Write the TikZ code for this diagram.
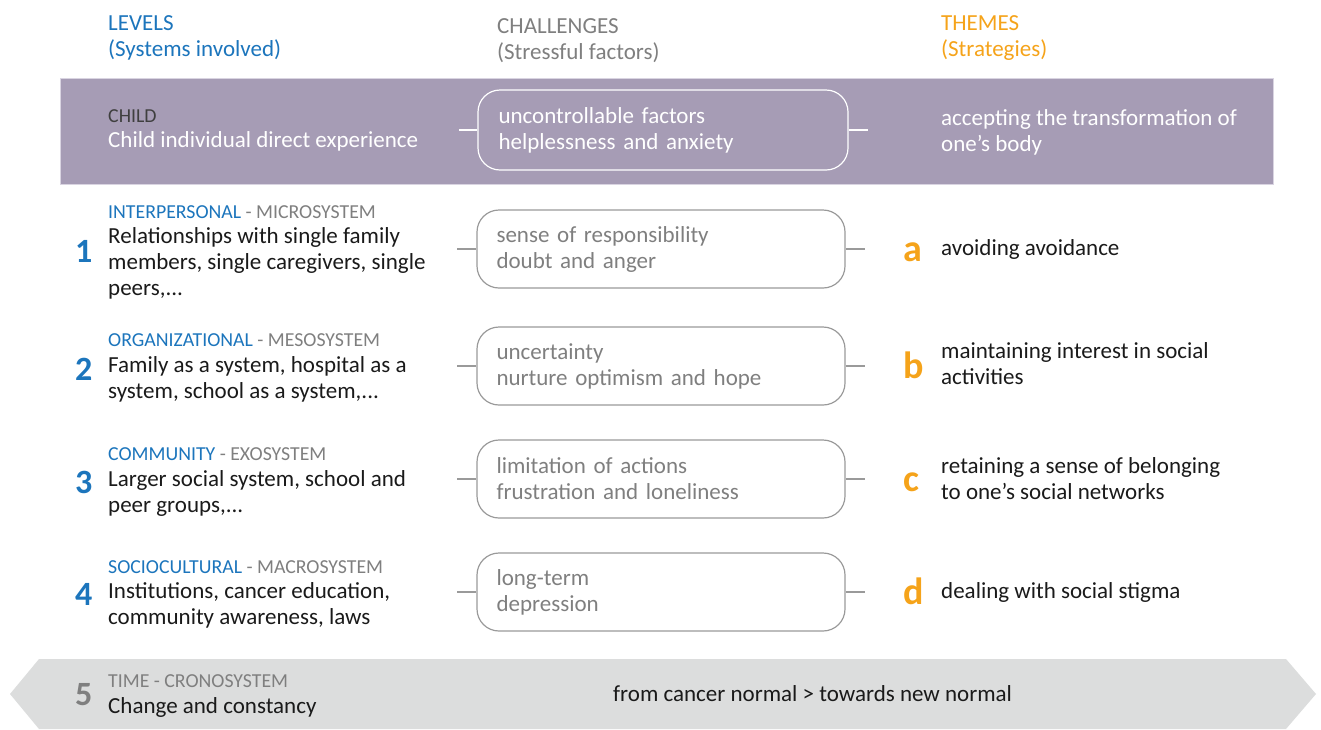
\documentclass[tikz,border=0pt]{standalone}
\usepackage{fontspec}
\setmainfont{Carlito}
\definecolor{lvblue}{HTML}{1C75BC}
\definecolor{thorange}{HTML}{F5A31A}
\definecolor{lblgray}{HTML}{7F7F7F}
\definecolor{dark}{HTML}{1A1A1A}
\definecolor{childpurple}{HTML}{A69CB5}
\definecolor{bandedge}{HTML}{D9D4E1}
\definecolor{boxgray}{HTML}{9A9A9A}
\definecolor{timegray}{HTML}{DCDDDD}
\definecolor{childlbl}{HTML}{3F3F3F}
\begin{document}
\begin{tikzpicture}[x=1pt,y={(0pt,-1pt)},
  txt/.style={anchor=west,inner sep=0pt,align=left,font=\fontsize{23}{26}\selectfont,text=dark},
  hdr/.style={txt},
  lbl/.style={anchor=west,inner sep=0pt,font=\fontsize{19.8}{22}\selectfont,text=lblgray},
  num/.style={anchor=base west,inner sep=0pt,font=\fontsize{34}{34}\selectfont\bfseries,text=lvblue},
  let/.style={anchor=base west,inner sep=0pt,font=\fontsize{38}{38}\selectfont\bfseries,text=thorange},
  chbox/.style={draw=boxgray,line width=1.2pt,rounded corners=22pt,minimum width=368pt,minimum height=78pt,
    inner xsep=19.5pt,inner ysep=0pt,text width=329pt,align=left,font=\fontsize{23}{26}\selectfont,text=lblgray},
  conn/.style={draw=boxgray,line width=1.2pt},
]
\useasboundingbox (0,0) rectangle (1321,729);
% headers
\node[hdr,text=lvblue] (hlev) at (108,38) {LEVELS\\(Systems involved)};
\node[hdr,text=lblgray] (hcha) at (497,41) {CHALLENGES\\(Stressful factors)};
\node[hdr,text=thorange] (hthe) at (941,38) {THEMES\\(Strategies)};
% child band
\node[fill=childpurple,draw=bandedge,line width=1pt,minimum width=1213pt,minimum height=106pt,inner sep=0pt] (band) at (666.5,131) {};
\node[lbl,text=childlbl] (childl) at (108,116) {CHILD};
\node[txt,text=white] (childt) at (108,141) {Child individual direct experience};
\node[chbox,draw=white,text=white,minimum width=370pt,minimum height=80pt] (cb) at (663,130) {uncontrollable factors\\helplessness and anxiety};
\coordinate (cl) at (459,130);
\coordinate (cr) at (868,130);
\draw[conn,draw=white] (cl) -- (cb.west);
\draw[conn,draw=white] (cb.east) -- (cr);
\node[txt,text=white] (ct) at (941,132) {accepting the transformation of\\one’s body};
% row 1
\node[lbl] (l1) at (108,212) {\textcolor{lvblue}{INTERPERSONAL} - MICROSYSTEM};
\node[txt] (t1) at (108,263) {Relationships with single family\\members, single caregivers, single\\peers,...};
\node[num] (n1) at (75,262) {1};
\node[chbox] (b1) at (661,249) {sense of responsibility\\doubt and anger};
\coordinate (bl1) at (457,249);
\coordinate (br1) at (865,249);
\draw[conn] (bl1) -- (b1.west);
\draw[conn] (b1.east) -- (br1);
\node[let] (a1) at (903,261) {a};
\node[txt] (s1) at (941,249) {avoiding avoidance};
% row 2
\node[lbl] (l2) at (108,340) {\textcolor{lvblue}{ORGANIZATIONAL} - MESOSYSTEM};
\node[txt] (t2) at (108,379) {Family as a system, hospital as a\\system, school as a system,...};
\node[num] (n2) at (75,380) {2};
\node[chbox] (b2) at (661,366) {uncertainty\\nurture optimism and hope};
\coordinate (bl2) at (457,366);
\coordinate (br2) at (865,366);
\draw[conn] (bl2) -- (b2.west);
\draw[conn] (b2.east) -- (br2);
\node[let] (a2) at (903,378) {b};
\node[txt] (s2) at (941,364) {maintaining interest in social\\activities};
% row 3
\node[lbl] (l3) at (108,454) {\textcolor{lvblue}{COMMUNITY} - EXOSYSTEM};
\node[txt] (t3) at (108,493) {Larger social system, school and\\peer groups,...};
\node[num] (n3) at (75,493) {3};
\node[chbox] (b3) at (661,479) {limitation of actions\\frustration and loneliness};
\coordinate (bl3) at (457,479);
\coordinate (br3) at (865,479);
\draw[conn] (bl3) -- (b3.west);
\draw[conn] (b3.east) -- (br3);
\node[let] (a3) at (903,491) {c};
\node[txt] (s3) at (941,479) {retaining a sense of belonging\\to one’s social networks};
% row 4
\node[lbl] (l4) at (108,567) {\textcolor{lvblue}{SOCIOCULTURAL} - MACROSYSTEM};
\node[txt] (t4) at (108,605.5) {Institutions, cancer education,\\community awareness, laws};
\node[num] (n4) at (75,605) {4};
\node[chbox] (b4) at (661,592) {long-term\\depression};
\coordinate (bl4) at (457,592);
\coordinate (br4) at (865,592);
\draw[conn] (bl4) -- (b4.west);
\draw[conn] (b4.east) -- (br4);
\node[let] (a4) at (903,604) {d};
\node[txt] (s4) at (941,592) {dealing with social stigma};
% time band
\fill[timegray] (39,659) -- (1286,659) -- (1316,694) -- (1286,729) -- (39,729) -- (10,694) -- cycle;
\node[num,text=lblgray] (n5) at (75,705) {5};
\node[lbl] (l5) at (108,681) {TIME - CRONOSYSTEM};
\node[txt] (t5) at (108,707) {Change and constancy};
\node[txt] (tt) at (613,694) {from cancer normal > towards new normal};
\end{tikzpicture}
\end{document}
